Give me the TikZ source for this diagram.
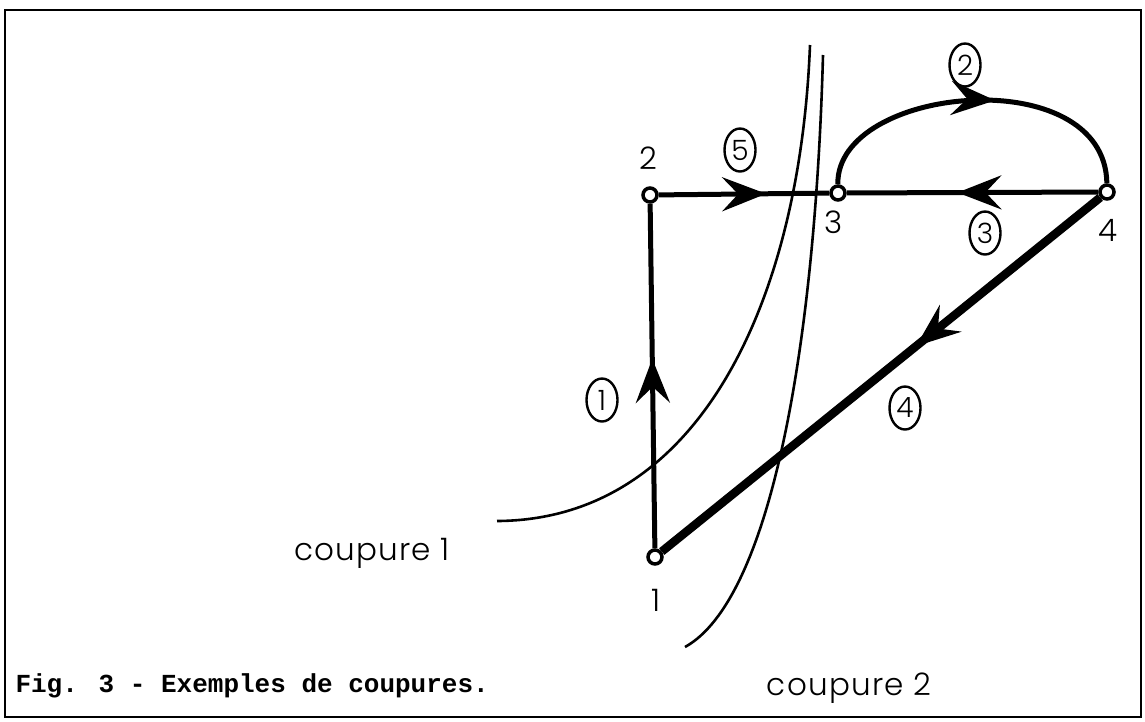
\documentclass[tikz,border=0pt]{standalone}
\usepackage{fontspec}
\setmainfont{Poppins Light}
\newfontfamily\capfont{Liberation Mono}
\usetikzlibrary{arrows.meta,decorations.markings,shapes.geometric}
\begin{document}
\begin{tikzpicture}[x=1pt,y=-1pt,
 vertex/.style={circle,draw,fill=white,line width=3.5pt,inner sep=0pt,minimum size=14pt},
 edge/.style={line width=5pt},
 bigedge/.style={line width=8.5pt},
 cut/.style={line width=2.6pt},
 num/.style={ellipse,draw,line width=2.4pt,inner sep=0pt,minimum width=31pt,minimum height=43pt,font=\fontsize{28}{28}\selectfont},
 lab/.style={font=\fontsize{31}{31}\selectfont},
 cuttext/.style={font=\fontsize{31}{31}\selectfont\addfontfeatures{LetterSpace=4}},
 midarrow/.style={postaction={decorate},decoration={markings,mark=at position #1 with {\arrow{Stealth[length=44pt,width=34pt,inset=16pt]}}}},
]
\useasboundingbox (0,0) rectangle (1145,721);
\draw[line width=2pt] (5,10) rectangle (1141,717);

% vertices
\node[vertex] (n1) at (655,557) {};
\node[vertex] (n2) at (650,195) {};
\node[vertex] (n3) at (838,193) {};
\node[vertex] (n4) at (1107,192) {};

% edges
\draw[edge,midarrow=0.55] (n1) -- (n2);
\draw[edge,midarrow=0.63] (n2) -- (n3);
\draw[edge,midarrow=0.56] (n3) .. controls (836,85) and (1105,60) .. (n4);
\draw[edge,midarrow=0.56] (n4) -- (n3);
\draw[bigedge,midarrow=0.42] (n4) -- (n1);

% cuts
\coordinate (k1a) at (497,521);
\coordinate (k1b) at (810,45);
\coordinate (k2a) at (685,647);
\coordinate (k2b) at (823,55);
\draw[cut] (k1a) .. controls (700,520) and (800,300) .. (k1b);
\draw[cut] (k2a) .. controls (770,600) and (815,350) .. (k2b);

% edge numbers
\node[num] (e1) at (602,400) {1};
\node[num] (e5) at (740,150) {5};
\node[num] (e2) at (965,65) {2};
\node[num] (e3) at (985,233) {3};
\node[num] (e4) at (905,408) {4};

% vertex labels
\node[lab] (l1) at (656,600) {1};
\node[lab] (l2) at (648,158) {2};
\node[lab] (l3) at (834,222) {3};
\node[lab] (l4) at (1108,230) {4};

% texts
\node[cuttext] (t1) at (372,553) {coupure 1};
\node[cuttext] (t2) at (849,688) {coupure 2};
\node[font=\capfont\bfseries\fontsize{26}{26}\selectfont,anchor=west] (cap) at (12,686) {Fig. 3 - Exemples de coupures.};
\end{tikzpicture}
\end{document}
